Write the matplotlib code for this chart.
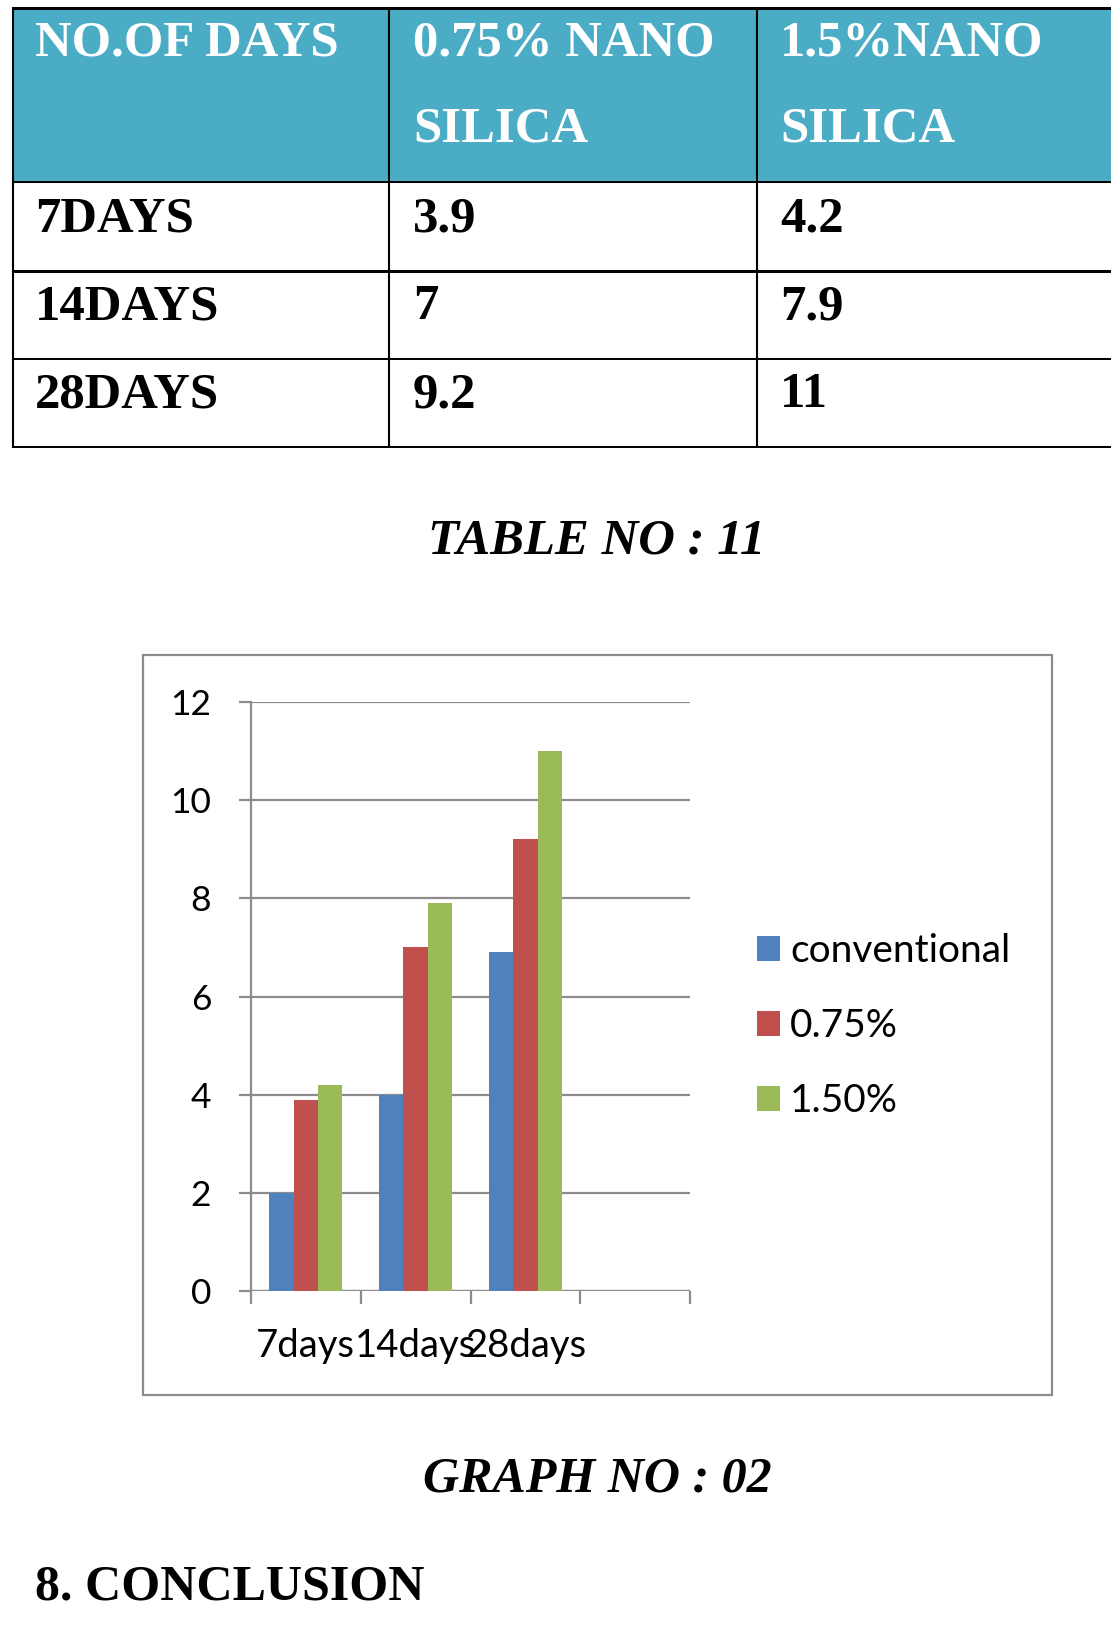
import matplotlib.pyplot as plt
import numpy as np
from matplotlib.patches import Rectangle
from matplotlib.lines import Line2D

# data
days = ['7days', '14days', '28days']
conventional = [2, 4, 6.9]
nano_075 = [3.9, 7, 9.2]
nano_150 = [4.2, 7.9, 11]
series_names = ['conventional', '0.75%', '1.50%']
colors = ['#4F81BD', '#C0504D', '#9BBB59']

table_head = ['NO.OF DAYS', '0.75% NANO\nSILICA', '1.5%NANO\nSILICA']
row_labels = ['7DAYS', '14DAYS', '28DAYS']

W, H = 1111, 1643
fig = plt.figure(figsize=(W / 100, H / 100), dpi=100)


def fx(px):
    return px / W


def fy(py):
    return 1 - py / H


serif = 'Liberation Serif'
sans = 'Lato'

# ---- table ----
col_x = [13, 389, 757, 1125]
row_y = [8, 182, 271, 359, 447]
fig.patches.append(Rectangle((fx(13), fy(182)), fx(1125 - 13), fy(8) - fy(182),
                             transform=fig.transFigure, facecolor='#4BACC6',
                             edgecolor='none', zorder=0))
for y in row_y:
    lw = 3 if y in (8, 271) else 2
    fig.add_artist(Line2D([fx(13), fx(1125)], [fy(y), fy(y)], color='black', lw=lw * 0.72))
for x in col_x[:3]:
    fig.add_artist(Line2D([fx(x), fx(x)], [fy(8), fy(447)], color='black', lw=1.5))

text_x = [35, 413, 780]
for j, head in enumerate(table_head):
    lines = head.split('\n')
    for k, line in enumerate(lines):
        fig.text(fx(text_x[j]), fy([56, 142][k]), line, color='white', family=serif,
                 weight='bold', fontsize=36.5, va='baseline', ha='left')

base_rows = [231, 319, 407]
for i, lab in enumerate(row_labels):
    vals = [lab, f'{nano_075[i]:g}', f'{nano_150[i]:g}']
    for j, v in enumerate(vals):
        fig.text(fx(text_x[j]), fy(base_rows[i]), v, color='black', family=serif,
                 weight='bold', fontsize=36.5, va='baseline', ha='left')

fig.text(fx(597), fy(553), 'TABLE NO : 11', family=serif, weight='bold', style='italic',
         fontsize=36.5, ha='center', va='baseline')

# ---- chart frame ----
fig.patches.append(Rectangle((fx(143), fy(1395)), fx(1052 - 143), fy(655) - fy(1395),
                             transform=fig.transFigure, facecolor='none',
                             edgecolor='#8C8C8C', lw=1.6, zorder=0))

ax = fig.add_axes([fx(251), fy(1291), fx(690 - 251), fy(702) - fy(1291)])
x = np.arange(len(days))
bw = 1 / 4.5
for k, (vals, name, c) in enumerate(zip([conventional, nano_075, nano_150], series_names, colors)):
    ax.bar(x + (k - 1) * bw, vals, width=bw, color=c, label=name, zorder=3)

ax.set_xlim(-0.5, 3.5)
ax.set_ylim(0, 12)
ax.set_yticks(range(0, 13, 2))
grid_c = '#8C8C8C'
ax.yaxis.grid(True, color=grid_c, lw=1.6, zorder=1)
for s in ['top', 'right', 'bottom']:
    ax.spines[s].set_visible(False)
ax.spines['left'].set_color(grid_c)
ax.spines['left'].set_linewidth(1.6)
ax.tick_params(axis='y', length=8.6, width=1.6, color=grid_c, pad=20,
               labelsize=25.5, labelfontfamily=sans)
ax.set_xticks(x)
ax.set_xticklabels(days)
ax.set_xticks(np.arange(-0.5, 3.6, 1), minor=True)
ax.tick_params(axis='x', which='major', length=0, pad=27,
               labelsize=27.5, labelfontfamily=sans)
ax.tick_params(axis='x', which='minor', length=9.4, width=1.6, color=grid_c)
ax.axhline(0, color=grid_c, lw=1.6, zorder=2)

fig.legend(loc='center left', bbox_to_anchor=(fx(757), fy(1026)), frameon=False,
           prop={'family': sans, 'size': 28}, handlelength=0.6, handleheight=0.6,
           handletextpad=0.25, labelspacing=1.0, borderaxespad=0, borderpad=0)

fig.text(fx(597), fy(1492), 'GRAPH NO : 02', family=serif, weight='bold', style='italic',
         fontsize=36, ha='center', va='baseline')
fig.text(fx(35), fy(1600), '8. CONCLUSION', family=serif, weight='bold',
         fontsize=36, ha='left', va='baseline')

fig.savefig('out.png', dpi=100, facecolor='white')
